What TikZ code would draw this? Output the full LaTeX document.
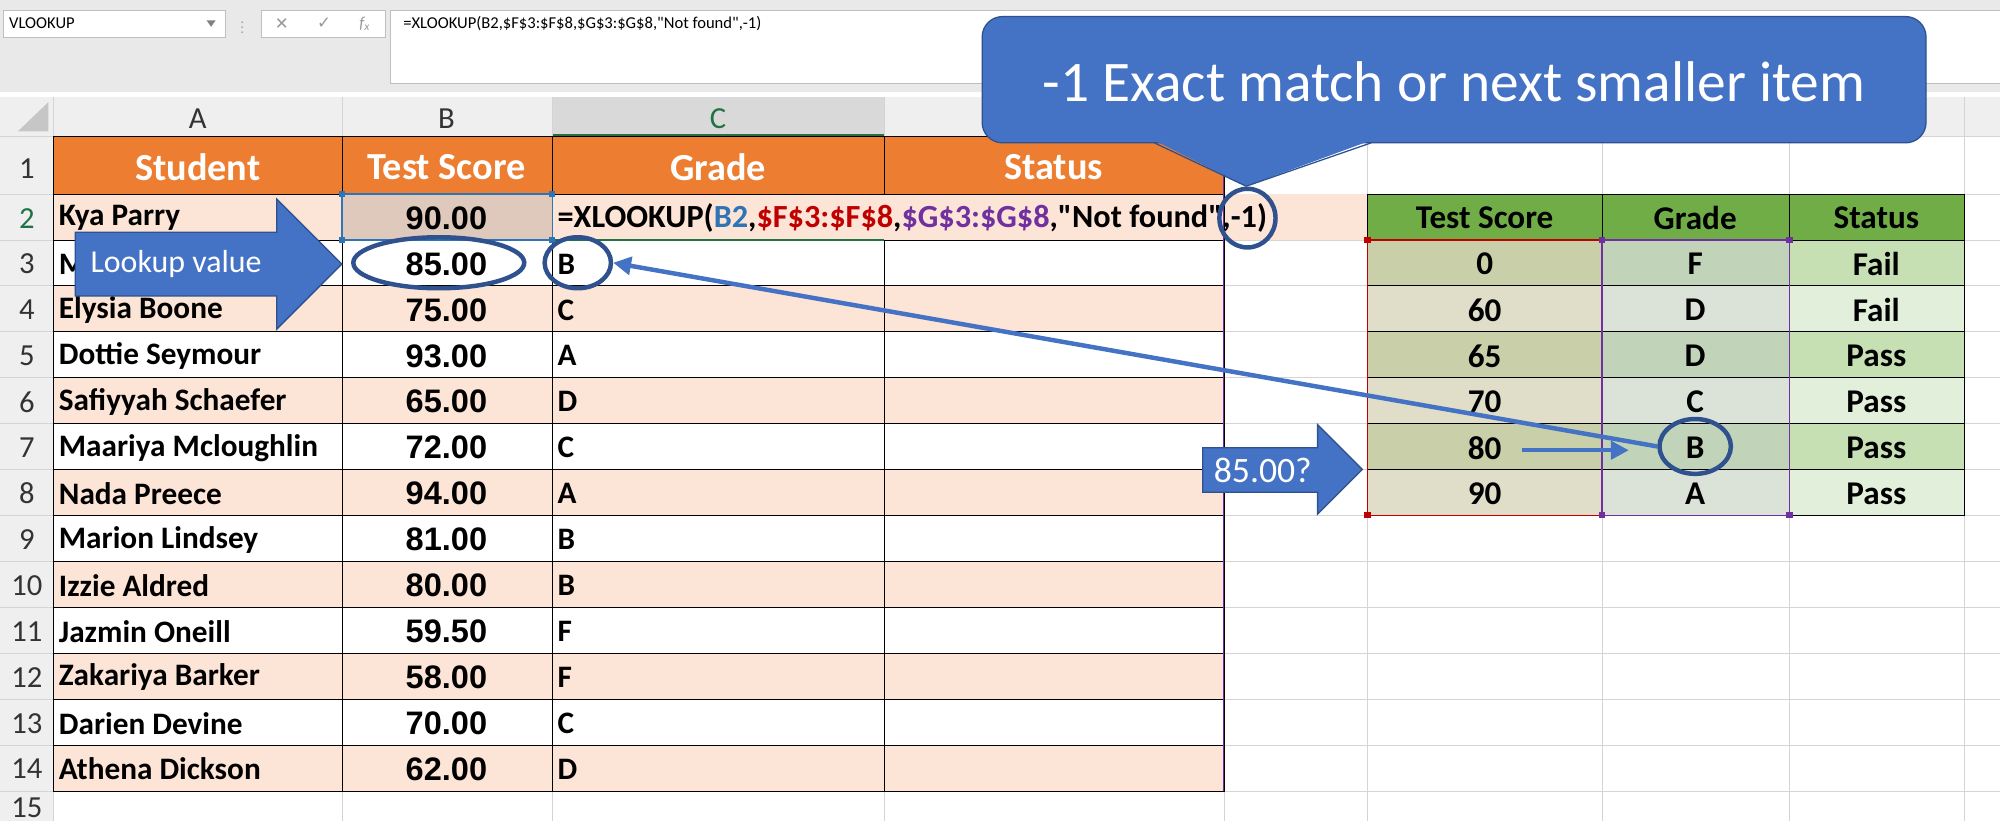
\documentclass[tikz,border=0pt]{standalone}
\usepackage{fontspec}
\setmainfont{Carlito}
\newfontfamily\arl{Liberation Sans}
\newfontfamily\dejavu{DejaVu Sans}
\usetikzlibrary{arrows.meta,shapes.geometric}
\definecolor{topgray}{HTML}{E9E9E9}
\definecolor{hdrgray}{HTML}{EFEFEF}
\definecolor{gridgray}{HTML}{D4D4D4}
\definecolor{xorange}{HTML}{ED7D31}
\definecolor{peach}{HTML}{FCE4D6}
\definecolor{xgreen}{HTML}{70AD47}
\definecolor{fdark}{HTML}{C9D0A9}
\definecolor{flight}{HTML}{E0DEC9}
\definecolor{gdark}{HTML}{C1D4B9}
\definecolor{glight}{HTML}{DBE2D7}
\definecolor{hdark}{HTML}{C6E0B4}
\definecolor{hlight}{HTML}{E2EFDA}
\definecolor{xblue}{HTML}{4472C4}
\definecolor{xbluedk}{HTML}{2F528F}
\definecolor{refblue}{HTML}{2F75B5}
\definecolor{refred}{HTML}{C00000}
\definecolor{refpurple}{HTML}{7030A0}
\definecolor{selgreen}{HTML}{217346}
\tikzset{
  cell/.style={inner sep=0, font=\fontsize{24.5}{28}\selectfont\bfseries},
  rcell/.style={inner sep=0, font=\fontsize{26}{30}\selectfont\bfseries},
  score/.style={inner sep=0, font=\arl\fontsize{25.5}{30}\selectfont\bfseries},
  hdr/.style={inner sep=0, text=white, font=\fontsize{30}{34}\selectfont\bfseries},
  colhdr/.style={inner sep=0, font=\fontsize{24}{28}\selectfont, text=black!80},
  rownum/.style={inner sep=0, font=\fontsize{24}{28}\selectfont, text=black!80},
  ring/.style={ellipse, draw=xbluedk, line width=3.5pt, inner sep=0},
  bluearrow/.style={fill=xblue, draw=xbluedk, line width=1pt},
  wtext/.style={inner sep=0, text=white, font=\fontsize{25}{30}\selectfont},
  conn/.style={draw=xblue, line width=3.5pt, -{Triangle[length=14pt,width=14pt]}},
}
\begin{document}
\begin{tikzpicture}[x=1pt,y=-1pt]
\useasboundingbox (0,0) rectangle (1568,644);
\fill[white] (0,0) rectangle (1568,644);
\fill[topgray] (0,0) rectangle (1568,72);
% name box and formula bar
\node[draw=gray!50, fill=white, minimum width=174pt, minimum height=21pt, anchor=north west, inner sep=0] (namebox) at (2.5,8) {};
\node[inner sep=0, anchor=west, font=\fontsize{13}{15}\selectfont] (nametxt) at (7,18.5) {VLOOKUP};
\fill[gray] (162,16) -- (169,16) -- (165.5,21) -- cycle;
\node[inner sep=0, text=gray!70, font=\fontsize{12}{14}\selectfont] (dots) at (190,18.5) {\vdots};
\node[draw=gray!50, fill=white, minimum width=97pt, minimum height=21pt, anchor=north west, inner sep=0] (btnbox) at (205,8) {};
\node[inner sep=0, text=gray!80, font=\dejavu\fontsize{13}{15}\selectfont] (bx) at (221,18.5) {✕};
\node[inner sep=0, text=gray!80, font=\dejavu\fontsize{13}{15}\selectfont] (bv) at (254,18.5) {✓};
\node[inner sep=0, text=gray!80, font=\fontsize{13}{15}\selectfont\itshape] (bf) at (286,18.5) {f\textsubscript{x}};
\node[draw=gray!50, fill=white, minimum width=1270pt, minimum height=57pt, anchor=north west, inner sep=0] (fbox) at (306,8) {};
\node[inner sep=0, anchor=west, font=\fontsize{13}{15}\selectfont] (ftxt) at (316,18.5) {=XLOOKUP(B2,\$F\$3:\$F\$8,\$G\$3:\$G\$8,\textquotedbl Not found\textquotedbl,-1)};
% headers
\fill[hdrgray] (0,76) rectangle (1568,107);
\fill[hdrgray] (0,107) rectangle (42,644);
\fill[black!15] (433,76) rectangle (693,107);
\draw[selgreen, line width=1.5pt] (433,106) -- (693,106);
\fill[gray!45] (38,80) -- (38,103) -- (14,103) -- cycle;
% gray grid
\foreach \x in {42,268,433,693,960,1072,1256,1403,1540} \draw[gridgray] (\x,76) -- (\x,644);
\foreach \y in {107,152,188,224,260,296,332,368,404,440,476,512,548,584,620} \draw[gridgray] (0,\y) -- (1568,\y);
\node[colhdr] (hA) at (155,93) {A};
\node[colhdr] (hB) at (350,93) {B};
\node[colhdr, text=selgreen] (hC) at (563,93) {C};
\node[rownum] (r1) at (21,132) {1};
\node[rownum, text=selgreen] (r2) at (21,171) {2};
\foreach \r in {3,...,14} \node[rownum] (r\r) at (21,{207+(\r-3)*36}) {\r};
\node[rownum, anchor=north] (r15) at (21,625) {15};
% fills
\fill[xorange] (42,107) rectangle (960,152);
\fill[peach] (42,152) rectangle (1072,188);
\fill[black!12!peach] (268,152) rectangle (433,188);
\foreach \r in {4,6,...,14} \fill[peach] (42,{188+(\r-3)*36}) rectangle (960,{224+(\r-3)*36});
% black borders left table
\draw[black] (42,107) rectangle (960,620);
\foreach \y in {152,188,224,260,296,332,368,404,440,476,512,548,584} \draw (42,\y) -- (960,\y);
\draw (268,107) -- (268,620) (433,107) -- (433,620) (693,107) -- (693,152) (693,188) -- (693,620);
\draw[refpurple, line width=1pt] (959,107) -- (959,620);
\draw[selgreen, line width=1.2pt] (433,152) -- (433,188) -- (693,188);
% B2 selection
\draw[refblue, line width=1.2pt] (268,152) rectangle (433,188);
\foreach \p in {(268,152),(433,152),(268,188),(433,188)} \fill[refblue] \p ++(-2.5,-2.5) rectangle ++(5,5);
% header texts
\node[hdr] (tStudent) at (155,131) {Student};
\node[hdr] (tScore) at (350,131) {Test Score};
\node[hdr] (tGrade) at (563,131) {Grade};
\node[hdr] (tStatus) at (826,131) {Status};
% row 2
\node[cell, anchor=west] (name2) at (46,171) {Kya Parry};
\node[score] (score2) at (350,171) {90.00};
\node[cell, anchor=west, font=\fontsize{25.3}{28}\selectfont\bfseries] (fml) at (437,171) {=XLOOKUP(\textcolor{refblue}{B2},\textcolor{refred}{\$F\$3:\$F\$8},\textcolor{refpurple}{\$G\$3:\$G\$8},\textquotedbl Not found\textquotedbl,-1)};
% row 3
\node[cell, anchor=west] (name3) at (46,207) {M};
\node[score] (score3) at (350,207) {85.00};
\node[cell, anchor=west] (grade3) at (437,207) {B};
\foreach \r/\nm/\sc/\g in {4/Elysia Boone/75.00/C, 5/Dottie Seymour/93.00/A, 6/Safiyyah Schaefer/65.00/D, 7/Maariya Mcloughlin/72.00/C, 8/Nada Preece/94.00/A, 9/Marion Lindsey/81.00/B, 10/Izzie Aldred/80.00/B, 11/Jazmin Oneill/59.50/F, 12/Zakariya Barker/58.00/F, 13/Darien Devine/70.00/C, 14/Athena Dickson/62.00/D} {
  \node[cell, anchor=west] (name\r) at (46,{207+(\r-3)*36}) {\nm};
  \node[score] (score\r) at (350,{207+(\r-3)*36}) {\sc};
  \node[cell, anchor=west] (grade\r) at (437,{207+(\r-3)*36}) {\g};
}
% right table
\fill[xgreen] (1072,152) rectangle (1540,188);
\foreach \r/\s/\g/\st/\d in {3/0/F/Fail/1, 4/60/D/Fail/0, 5/65/D/Pass/1, 6/70/C/Pass/0, 7/80/B/Pass/1, 8/90/A/Pass/0} {
  \pgfmathsetmacro{\yt}{188+(\r-3)*36}
  \ifnum\d=1
    \fill[fdark] (1072,\yt) rectangle (1256,\yt+36);
    \fill[gdark] (1256,\yt) rectangle (1403,\yt+36);
    \fill[hdark] (1403,\yt) rectangle (1540,\yt+36);
  \else
    \fill[flight] (1072,\yt) rectangle (1256,\yt+36);
    \fill[glight] (1256,\yt) rectangle (1403,\yt+36);
    \fill[hlight] (1403,\yt) rectangle (1540,\yt+36);
  \fi
  \node[rcell] (ts\r) at (1164,\yt+19) {\s};
  \node[rcell] (tg\r) at (1329,\yt+19) {\g};
  \node[rcell] (tst\r) at (1471,\yt+19) {\st};
}
\draw (1072,152) rectangle (1540,404);
\foreach \y in {188,224,260,296,332,368} \draw (1072,\y) -- (1540,\y);
\draw (1256,152) -- (1256,404) (1403,152) -- (1403,404);
\node[rcell] (rhScore) at (1164,171) {Test Score};
\node[rcell] (rhGrade) at (1329,171) {Grade};
\node[rcell] (rhStatus) at (1471,171) {Status};
\draw[refred, line width=1.2pt] (1072,188) rectangle (1256,404);
\draw[refpurple, line width=1.2pt] (1256,188) rectangle (1403,404);
\foreach \p in {(1072,188),(1072,404)} \fill[refred] \p ++(-2.5,-2.5) rectangle ++(5,5);
\foreach \p in {(1256,188),(1403,188),(1256,404),(1403,404)} \fill[refpurple] \p ++(-2.5,-2.5) rectangle ++(5,5);
% callout
\draw[bluearrow, rounded corners=16pt] (770,13) rectangle (1510,112);
\fill[xblue] (905,110) -- (1075,110) -- (977,146) -- cycle;
\draw[xbluedk, line width=1pt] (905,112) -- (977,146) -- (1075,112);
\node[inner sep=0, text=white, font=\fontsize{45}{52}\selectfont] (callout) at (1140,64) {-1 Exact match or next smaller item};
% arrows
\draw[bluearrow] (59,182) -- (217,182) -- (217,156) -- (268,207) -- (217,258) -- (217,232) -- (59,232) -- cycle;
\node[wtext] (lookup) at (138,207) {Lookup value};
\draw[bluearrow] (943,351) -- (1033,351) -- (1033,333) -- (1068,368) -- (1033,403) -- (1033,386) -- (943,386) -- cycle;
\node[wtext, font=\fontsize{28}{32}\selectfont] (q85) at (990,369) {85.00?};
% rings
\node[ring, minimum width=134pt, minimum height=40pt] (e85) at (344,206) {};
\node[ring, minimum width=52pt, minimum height=40pt] (eC3) at (453,206) {};
\node[ring, minimum width=44pt, minimum height=46pt] (em1) at (978,171) {};
\node[ring, minimum width=56pt, minimum height=43pt] (eG7) at (1329,350) {};
% connectors
\draw[conn] (eG7.west) -- (eC3.east);
\coordinate (s1) at (1193,353);
\coordinate (s2) at (1277,353);
\draw[conn] (s1) -- (s2);
\end{tikzpicture}
\end{document}
